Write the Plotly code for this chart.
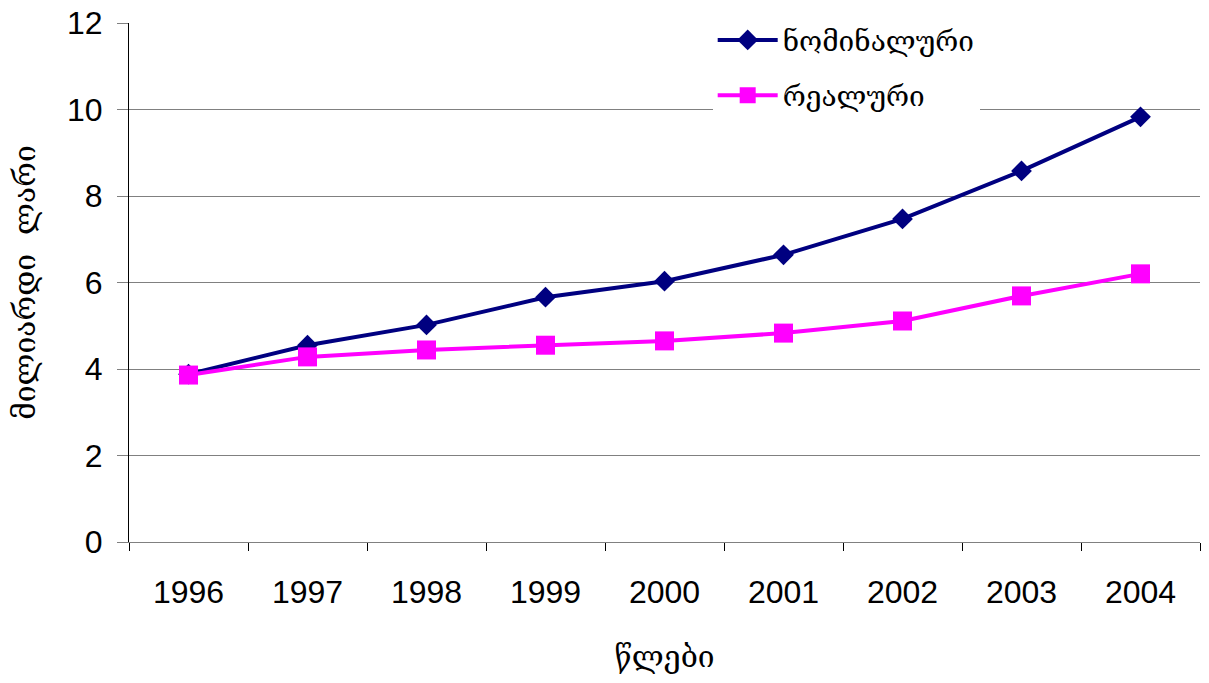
import plotly.graph_objects as go

years = ["1996", "1997", "1998", "1999", "2000", "2001", "2002", "2003", "2004"]
nominal = [3.88, 4.55, 5.02, 5.66, 6.03, 6.64, 7.47, 8.58, 9.83]
real = [3.86, 4.28, 4.44, 4.55, 4.65, 4.83, 5.11, 5.69, 6.20]
y_ticks = [0, 2, 4, 6, 8, 10, 12]

geo_font = "DejaVu Serif"
num_font = "Liberation Sans, Arial, sans-serif"

fig = go.Figure()
fig.add_trace(go.Scatter(
    x=years, y=nominal, name="ნომინალური", mode="lines+markers",
    line=dict(color="#000080", width=4),
    marker=dict(symbol="diamond", size=16, color="#000080"),
    legendgroup="a",
))
fig.add_trace(go.Scatter(
    x=years, y=real, name="რეალური", mode="lines+markers",
    line=dict(color="#FF00FF", width=4),
    marker=dict(symbol="square", size=19, color="#FF00FF"),
    legendgroup="b",
))

fig.update_layout(
    width=1209, height=683,
    margin=dict(l=129, r=9, t=23, b=141, autoexpand=False),
    paper_bgcolor="white", plot_bgcolor="white",
    showlegend=True,
    legend=dict(
        x=0.545, y=1.015, xanchor="left", yanchor="top",
        bgcolor="white", borderwidth=0,
        font=dict(family=geo_font, size=28, color="black"),
        itemwidth=60, tracegroupgap=16,
    ),
    xaxis=dict(
        type="category", range=[-0.5, 8.5], automargin=False,
        showline=True, linecolor="#808080", linewidth=1,
        ticks="outside", tickson="boundaries", ticklen=8, tickcolor="black",
        showgrid=False,
        tickfont=dict(family=num_font, size=32, color="black"),
        ticklabelstandoff=22,
        title=dict(text="წლები", font=dict(family=geo_font, size=30, color="black"), standoff=36),
    ),
    yaxis=dict(
        range=[0, 12], tickvals=y_ticks, automargin=False,
        showline=True, linecolor="black", linewidth=1,
        ticks="outside", ticklen=11, tickcolor="#808080",
        showgrid=True, gridcolor="#808080", gridwidth=1,
        zeroline=False,
        tickfont=dict(family=num_font, size=32, color="black"),
        ticklabelstandoff=8, ticklabeloverflow="allow",
        title=dict(text="მილიარდი  ლარი", font=dict(family=geo_font, size=30, color="black"), standoff=22),
    ),
)

fig.write_html(
    "out.html",
    config={"displayModeBar": False},
    post_script="document.body.style.margin='0';document.body.style.overflow='hidden';",
)
